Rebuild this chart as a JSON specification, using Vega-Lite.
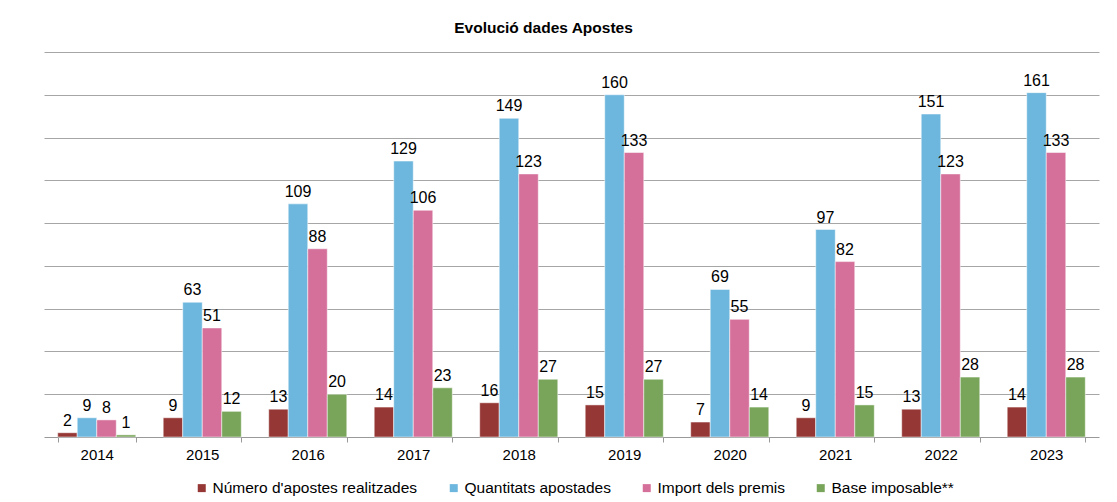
{
  "$schema": "https://vega.github.io/schema/vega-lite/v6.json",
  "width": 1055,
  "height": 385,
  "autosize": {"type": "none"},
  "padding": {"left": 44, "top": 52, "right": 18, "bottom": 65},
  "background": "white",
  "title": {
    "text": "Evolució dades Apostes",
    "font": "Liberation Sans",
    "fontSize": 15.5,
    "fontWeight": "bold",
    "color": "black",
    "anchor": "middle",
    "dx": -28,
    "offset": 16
  },
  "config": {
    "view": {"stroke": null},
    "font": "Liberation Sans"
  },
  "data": {
    "values": [
      {"year": "2014", "series": "Número d'apostes realitzades", "value": 2},
      {"year": "2014", "series": "Quantitats apostades", "value": 9},
      {"year": "2014", "series": "Import dels premis", "value": 8},
      {"year": "2014", "series": "Base imposable**", "value": 1},
      {"year": "2015", "series": "Número d'apostes realitzades", "value": 9},
      {"year": "2015", "series": "Quantitats apostades", "value": 63},
      {"year": "2015", "series": "Import dels premis", "value": 51},
      {"year": "2015", "series": "Base imposable**", "value": 12},
      {"year": "2016", "series": "Número d'apostes realitzades", "value": 13},
      {"year": "2016", "series": "Quantitats apostades", "value": 109},
      {"year": "2016", "series": "Import dels premis", "value": 88},
      {"year": "2016", "series": "Base imposable**", "value": 20},
      {"year": "2017", "series": "Número d'apostes realitzades", "value": 14},
      {"year": "2017", "series": "Quantitats apostades", "value": 129},
      {"year": "2017", "series": "Import dels premis", "value": 106},
      {"year": "2017", "series": "Base imposable**", "value": 23},
      {"year": "2018", "series": "Número d'apostes realitzades", "value": 16},
      {"year": "2018", "series": "Quantitats apostades", "value": 149},
      {"year": "2018", "series": "Import dels premis", "value": 123},
      {"year": "2018", "series": "Base imposable**", "value": 27},
      {"year": "2019", "series": "Número d'apostes realitzades", "value": 15},
      {"year": "2019", "series": "Quantitats apostades", "value": 160},
      {"year": "2019", "series": "Import dels premis", "value": 133},
      {"year": "2019", "series": "Base imposable**", "value": 27},
      {"year": "2020", "series": "Número d'apostes realitzades", "value": 7},
      {"year": "2020", "series": "Quantitats apostades", "value": 69},
      {"year": "2020", "series": "Import dels premis", "value": 55},
      {"year": "2020", "series": "Base imposable**", "value": 14},
      {"year": "2021", "series": "Número d'apostes realitzades", "value": 9},
      {"year": "2021", "series": "Quantitats apostades", "value": 97},
      {"year": "2021", "series": "Import dels premis", "value": 82},
      {"year": "2021", "series": "Base imposable**", "value": 15},
      {"year": "2022", "series": "Número d'apostes realitzades", "value": 13},
      {"year": "2022", "series": "Quantitats apostades", "value": 151},
      {"year": "2022", "series": "Import dels premis", "value": 123},
      {"year": "2022", "series": "Base imposable**", "value": 28},
      {"year": "2023", "series": "Número d'apostes realitzades", "value": 14},
      {"year": "2023", "series": "Quantitats apostades", "value": 161},
      {"year": "2023", "series": "Import dels premis", "value": 133},
      {"year": "2023", "series": "Base imposable**", "value": 28}
    ]
  },
  "encoding": {
    "x": {
      "field": "year",
      "type": "nominal",
      "scale": {"paddingInner": 0.26, "paddingOuter": 0.13},
      "axis": {
        "title": null,
        "labelAngle": 0,
        "labelFontSize": 15,
        "labelColor": "black",
        "labelPadding": 5,
        "domainColor": "#999999",
        "tickColor": "#999999",
        "tickSize": 5,
        "tickBand": "extent",
        "grid": false
      }
    },
    "xOffset": {
      "field": "series",
      "type": "nominal",
      "sort": ["Número d'apostes realitzades", "Quantitats apostades", "Import dels premis", "Base imposable**"],
      "scale": {"paddingInner": 0, "paddingOuter": 0}
    },
    "y": {
      "field": "value",
      "type": "quantitative",
      "scale": {"domain": [0, 180], "nice": false},
      "axis": {
        "title": null,
        "labels": false,
        "ticks": false,
        "domain": false,
        "values": [20, 40, 60, 80, 100, 120, 140, 160, 180],
        "gridColor": "#a6a6a6",
        "gridWidth": 1
      }
    }
  },
  "layer": [
    {
      "mark": {"type": "bar", "stroke": "white", "strokeWidth": 0.5},
      "encoding": {
        "color": {
          "field": "series",
          "type": "nominal",
          "sort": ["Número d'apostes realitzades", "Quantitats apostades", "Import dels premis", "Base imposable**"],
          "scale": {
            "domain": ["Número d'apostes realitzades", "Quantitats apostades", "Import dels premis", "Base imposable**"],
            "range": ["#953735", "#6db6dd", "#d5709b", "#78a55a"]
          },
          "legend": {
            "title": null,
            "orient": "none",
            "direction": "horizontal",
            "legendX": 150,
            "legendY": 428,
            "symbolType": "square",
            "symbolSize": 64,
            "symbolStrokeWidth": 0,
            "labelFontSize": 15.5,
            "labelColor": "black",
            "labelOffset": 3,
            "columnPadding": 28,
            "labelLimit": 300
          }
        }
      }
    },
    {
      "mark": {"type": "text", "baseline": "bottom", "dy": -4, "fontSize": 16, "color": "black"},
      "encoding": {
        "text": {"field": "value", "type": "quantitative"}
      }
    }
  ]
}
